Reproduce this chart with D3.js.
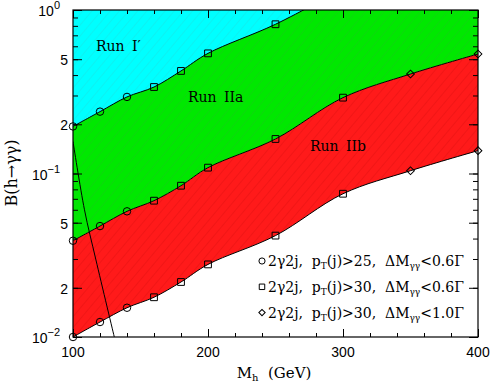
<!DOCTYPE html>
<html>
<head>
<meta charset="utf-8">
<script src="https://cdn.jsdelivr.net/npm/d3@7"></script>
<style>
  body { margin: 0; background: #fff; }
  .domain { stroke: none; }
  text { white-space: pre; }
</style>
</head>
<body>
<div id="chart"></div>
<script>
// Higgs masses where the curves have points (GeV)
var masses = [100, 120, 140, 160, 180, 200, 250, 300, 350, 400];
// marker used at each mass
var markerTypes = ["circle", "circle", "circle", "square", "square", "square", "square", "square", "diamond", "diamond"];
// boundary Run I' / Run IIa (last one leaves the frame)
var runI = [0.194, 0.239, 0.294, 0.338, 0.424, 0.543, 0.818, 1.35, null, null];
// boundary Run IIa / Run IIb
var runIIa = [0.0388, 0.0477, 0.0587, 0.0682, 0.0842, 0.1086, 0.1626, 0.291, 0.406, 0.538];
// boundary Run IIb / nothing
var runIIb = [0.0100, 0.01235, 0.0151, 0.0175, 0.0217, 0.0278, 0.0417, 0.0752, 0.104, 0.138];
// steep black line on the left
var steepMass = [100, 108.5, 117, 130.6];
var steepB = [0.157, 0.06, 0.0296, 0.01];

var xTicksMajor = [100, 200, 300, 400];
var yTicksMajor = [0.01, 0.02, 0.05, 0.1, 0.2, 0.5, 1];
var yTickBase = ["10", "2", "5", "10", "2", "5", "10"];
var yTickExp = ["\u22122", "", "", "\u22121", "", "", "0"];

var legendMarkers = ["circle", "square", "diamond"];
var legendCut = ["25", "30", "30"];
var legendWidth = ["0.6", "0.6", "1.0"];

var width = 491;
var height = 383;
var pLeft = 73, pRight = 478, pTop = 10, pBottom = 337;

var svg = d3
  .select("#chart")
  .append("svg")
  .attr("width", width)
  .attr("height", height);

var x_scale = d3.scaleLinear().domain([100, 400]).range([pLeft, pRight]);
var y_scale = d3.scaleLog().domain([0.01, 1]).range([pBottom, pTop]);
var curve = d3.curveCatmullRom.alpha(0.5);

// hatch patterns
var defs = svg.append("defs");
function hatch(id, base, stroke) {
  var p = defs
    .append("pattern")
    .attr("id", id)
    .attr("patternUnits", "userSpaceOnUse")
    .attr("width", 7)
    .attr("height", 7)
    .attr("patternTransform", "rotate(40)");
  p.append("rect").attr("width", 7).attr("height", 7).attr("fill", base);
  p.append("line")
    .attr("x1", 0).attr("y1", 0).attr("x2", 0).attr("y2", 7)
    .attr("stroke", stroke)
    .attr("stroke-width", 1.2);
}
hatch("hCyan", "#00ffff", "#14eaea");
hatch("hGreen", "#00e800", "#14d014");
hatch("hRed", "#ff1a1a", "#e81212");

defs.append("clipPath")
  .attr("id", "plotClip")
  .append("rect")
  .attr("x", pLeft)
  .attr("y", pTop)
  .attr("width", pRight - pLeft)
  .attr("height", pBottom - pTop);

var rows = masses.map(function(m, i) {
  return { m: m, a: runI[i], b: runIIa[i], c: runIIb[i], type: markerTypes[i] };
});
var rowsI = rows.filter(function(d) { return d.a !== null; });

var plot = svg.append("g").attr("clip-path", "url(#plotClip)");

// green: above the Run IIa curve
plot.append("path")
  .datum(rows)
  .attr("fill", "url(#hGreen)")
  .attr("d", d3.area()
    .x(function(d) { return x_scale(d.m); })
    .y0(pTop - 5)
    .y1(function(d) { return y_scale(d.b); })
    .curve(curve));

// cyan: above the Run I' curve
plot.append("path")
  .datum(rowsI)
  .attr("fill", "url(#hCyan)")
  .attr("d", d3.area()
    .x(function(d) { return x_scale(d.m); })
    .y0(pTop - 5)
    .y1(function(d) { return y_scale(d.a); })
    .curve(curve));

// red: between Run IIa and Run IIb
plot.append("path")
  .datum(rows)
  .attr("fill", "url(#hRed)")
  .attr("d", d3.area()
    .x(function(d) { return x_scale(d.m); })
    .y0(function(d) { return y_scale(d.b); })
    .y1(function(d) { return y_scale(d.c); })
    .curve(curve));

// boundary lines
var lineOf = function(key) {
  return d3.line()
    .x(function(d) { return x_scale(d.m); })
    .y(function(d) { return y_scale(d[key]); })
    .curve(curve);
};
plot.append("path").datum(rowsI).attr("fill", "none").attr("stroke", "#000").attr("d", lineOf("a"));
plot.append("path").datum(rows).attr("fill", "none").attr("stroke", "#000").attr("d", lineOf("b"));
plot.append("path").datum(rows).attr("fill", "none").attr("stroke", "#000").attr("d", lineOf("c"));

// steep line
plot.append("path")
  .datum(steepMass.map(function(m, i) { return [m, steepB[i]]; }))
  .attr("fill", "none")
  .attr("stroke", "#000")
  .attr("d", d3.line()
    .x(function(d) { return x_scale(d[0]); })
    .y(function(d) { return y_scale(d[1]); })
    .curve(curve));

// markers
function markerPath(type) {
  if (type === "circle") return d3.symbol(d3.symbolCircle, 44)();
  return d3.symbol(d3.symbolSquare, type === "square" ? 46 : 30)();
}
function drawMarkers(data, key) {
  svg.append("g")
    .selectAll("path")
    .data(data.filter(function(d) { return d[key] <= 1; }))
    .enter()
    .append("path")
    .attr("d", function(d) { return markerPath(d.type); })
    .attr("transform", function(d) {
      return "translate(" + x_scale(d.m) + "," + y_scale(d[key]) + ")" +
        (d.type === "diamond" ? " rotate(45)" : "");
    })
    .attr("fill", "none")
    .attr("stroke", "#000")
    .attr("stroke-width", 1);
}
drawMarkers(rowsI, "a");
drawMarkers(rows, "b");
drawMarkers(rows, "c");

// region labels
var runLabels = svg.append("g")
  .attr("font-family", "DejaVu Serif")
  .attr("font-size", 14)
  .attr("word-spacing", 3)
  .attr("fill", "#000");
runLabels.append("text").attr("x", 96).attr("y", 51).text("Run I\u2032");
runLabels.append("text").attr("x", 188).attr("y", 102).text("Run IIa");
runLabels.append("text").attr("x", 310).attr("y", 151).text("Run IIb");

// axes (ticks point inwards)
var xMinor = d3.range(100, 401, 20);
svg.append("g").attr("transform", "translate(0," + pBottom + ")")
  .call(d3.axisBottom(x_scale).tickValues(xMinor).tickSize(-4).tickFormat(""));
svg.append("g").attr("transform", "translate(0," + pBottom + ")")
  .call(d3.axisBottom(x_scale).tickValues(xTicksMajor).tickSize(-8).tickFormat(""));
svg.append("g").attr("transform", "translate(0," + pTop + ")")
  .call(d3.axisTop(x_scale).tickValues(xMinor).tickSize(-4).tickFormat(""));
svg.append("g").attr("transform", "translate(0," + pTop + ")")
  .call(d3.axisTop(x_scale).tickValues(xTicksMajor).tickSize(-8).tickFormat(""));

svg.append("g").attr("transform", "translate(" + pLeft + ",0)")
  .call(d3.axisLeft(y_scale).tickValues(y_scale.ticks()).tickSize(-5).tickFormat(""));
svg.append("g").attr("transform", "translate(" + pLeft + ",0)")
  .call(d3.axisLeft(y_scale).tickValues(yTicksMajor).tickSize(-9).tickFormat(""));
svg.append("g").attr("transform", "translate(" + pRight + ",0)")
  .call(d3.axisRight(y_scale).tickValues(y_scale.ticks()).tickSize(-5).tickFormat(""));
svg.append("g").attr("transform", "translate(" + pRight + ",0)")
  .call(d3.axisRight(y_scale).tickValues(yTicksMajor).tickSize(-9).tickFormat(""));

svg.selectAll(".tick line").attr("stroke", "#000");

// frame
svg.append("rect")
  .attr("x", pLeft)
  .attr("y", pTop)
  .attr("width", pRight - pLeft)
  .attr("height", pBottom - pTop)
  .attr("fill", "none")
  .attr("stroke", "#000")
  .attr("stroke-width", 1.2);

// tick labels
var xLab = svg.append("g")
  .attr("font-family", "Liberation Sans")
  .attr("font-size", 14)
  .attr("text-anchor", "middle");
xLab.selectAll("text")
  .data(xTicksMajor)
  .enter()
  .append("text")
  .attr("x", function(d) { return x_scale(d); })
  .attr("y", 357)
  .text(function(d) { return d; });

var yLab = svg.append("g")
  .attr("font-family", "Liberation Sans")
  .attr("font-size", 14)
  .attr("text-anchor", "end");
yTicksMajor.forEach(function(v, i) {
  var t = yLab.append("text")
    .attr("x", yTickExp[i] ? 60 : 68)
    .attr("y", y_scale(v) + 6);
  t.append("tspan").text(yTickBase[i]);
  if (yTickExp[i]) {
    t.append("tspan").attr("dy", -7).attr("font-size", 11).text(yTickExp[i]);
  }
});

// axis titles
var xt = svg.append("text")
  .attr("x", 274)
  .attr("y", 378)
  .attr("text-anchor", "middle")
  .attr("font-family", "DejaVu Serif")
  .attr("font-size", 15);
xt.append("tspan").text("M");
xt.append("tspan").attr("dy", 3).attr("font-size", 10).text("h");
xt.append("tspan").attr("dy", -3).text("  (GeV)");

svg.append("text")
  .attr("transform", "translate(17,173) rotate(-90)")
  .attr("text-anchor", "middle")
  .attr("font-family", "DejaVu Serif")
  .attr("font-size", 16)
  .text("B(h\u2192\u03b3\u03b3)");

// legend
var legend = svg.append("g")
  .attr("font-family", "DejaVu Serif")
  .attr("font-size", 14);
legendMarkers.forEach(function(type, i) {
  var cy = 261 + i * 25.8;
  var size = type === "circle" ? 30 : type === "square" ? 30 : 20;
  legend.append("path")
    .attr("d", type === "circle" ? d3.symbol(d3.symbolCircle, size)() : d3.symbol(d3.symbolSquare, size)())
    .attr("transform", "translate(262," + cy + ")" + (type === "diamond" ? " rotate(45)" : ""))
    .attr("fill", "none")
    .attr("stroke", "#000");
  var t = legend.append("text").attr("x", 268).attr("y", cy + 5);
  t.append("tspan").text("2\u03b32j,  p");
  t.append("tspan").attr("dy", 3).attr("font-size", 9).text("T");
  t.append("tspan").attr("dy", -3).text("(j)>" + legendCut[i] + ",  \u0394M");
  t.append("tspan").attr("dy", 3).attr("font-size", 9).text("\u03b3\u03b3");
  t.append("tspan").attr("dy", -3).text("<" + legendWidth[i] + "\u0393");
});
</script>
</body>
</html>
